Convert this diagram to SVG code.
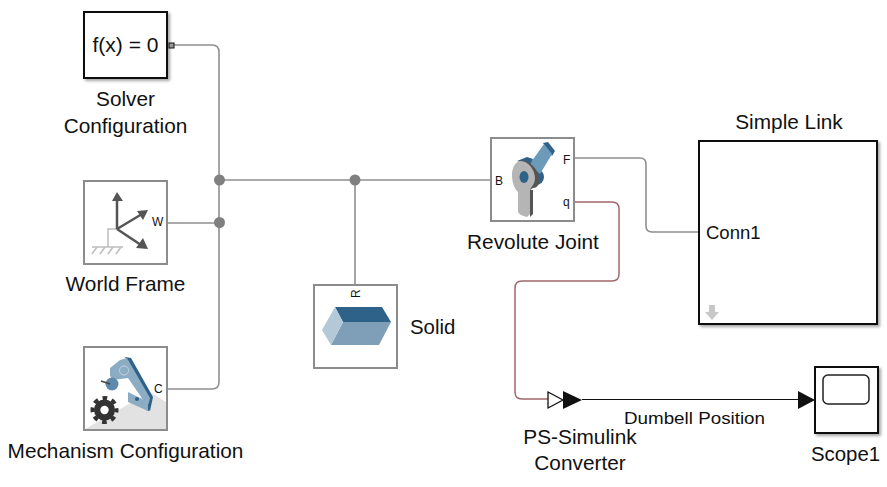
<svg xmlns="http://www.w3.org/2000/svg" width="887" height="487" viewBox="0 0 887 487">
<defs>
<filter id="sh" x="-10%" y="-10%" width="125%" height="125%"><feDropShadow dx="2" dy="2" stdDeviation="1.500" flood-color="#000" flood-opacity="0.35"/></filter>
</defs>
<style>
text{font-family:"Liberation Sans",Arial,sans-serif;fill:#111}
.lbl{font-size:20.800px;text-anchor:middle}
.port{font-size:12px}
.gray{fill:#fff;stroke:#8c8c8c;stroke-width:2}
.blk{fill:#fff;stroke:#111;stroke-width:2}
.conn{fill:none;stroke:#8f8f8f;stroke-width:1.600}
.dot{fill:#808080}
</style>
<rect width="887" height="487" fill="#fff"/>
<g id="connectors">
<path class="conn" d="M174 45H212Q219 45 219 52V382Q219 389 212 389H167"/>
<path class="conn" d="M168 223H219"/>
<path class="conn" d="M219 180H491"/>
<path class="conn" d="M355 180V285"/>
<path class="conn" d="M574 158H640Q646 158 646 164V226Q646 232 652 232H699"/>
<path fill="none" stroke="#a0686c" stroke-width="1.500" d="M574 202H612Q619 202 619 209V274Q619 281 612 281H522Q515 281 515 288V392Q515 399 522 399H548"/>
<path fill="none" stroke="#111" stroke-width="1" d="M582 399.500H800"/>
<path fill="#111" d="M798 391L815 400L798 409Z"/>
<circle class="dot" cx="219.500" cy="180" r="5.500"/>
<circle class="dot" cx="219.500" cy="222.500" r="5.500"/>
<circle class="dot" cx="355" cy="180" r="5.500"/>
<text x="694.500" y="424" font-size="17" text-anchor="middle" textLength="141" lengthAdjust="spacingAndGlyphs">Dumbell Position</text>
</g>
<g id="solver-config">
<rect class="blk" x="84" y="12" width="83" height="66" filter="url(#sh)"/>
<text x="125.500" y="52" font-size="21" text-anchor="middle">f(x) = 0</text>
<rect x="169" y="43" width="5" height="5" fill="#999" stroke="#111" stroke-width="1"/>
<text class="lbl" x="125.500" y="106">Solver</text>
<text class="lbl" x="125.500" y="133">Configuration</text>
</g>
<g id="world-frame">
<rect class="gray" x="84" y="181" width="83" height="83"/>
<path fill="none" stroke="#bdbdbd" stroke-width="1.500" d="M117 229H108V247M92 247H123M97 247L92 254M105 247L100 254M113 247L108 254M121 247L116 254"/>
<path fill="none" stroke="#555" stroke-width="2.500" d="M117 229V198M117 229L142 214M117 229L141 245"/>
<path fill="#555" d="M117 192L123 201H112ZM148 210L143 220L137 211ZM148 249L136 248L143 238Z"/>
<text class="port" x="152" y="226">W</text>
<text class="lbl" x="125.500" y="291">World Frame</text>
</g>
<g id="mechanism-config">
<rect class="gray" x="84" y="347" width="83" height="83"/>
<path fill="#e2e2e2" d="M85 429L150 392L166 402V429Z"/>
<path fill="#2f6288" d="M125 357L131 358L153 397L150 411L147 408L147 396Z"/>
<path fill="#8cacc4" d="M110 368L120 360L127 358L150 398L148 407L128 378L113 380L110 376Z"/>
<path fill="none" stroke="#c5d5e1" stroke-width="1" d="M124 366a4.500 4.500 0 1 0 .1 0Z"/>
<path fill="#2f6288" d="M146 403L149 404L149 411L146 410Z"/>
<path fill="#8cacc4" d="M128 392L148 402V411L128 402Z"/>
<circle cx="137" cy="399" r="2" fill="#2f6288"/>
<circle cx="112" cy="384" r="6.500" fill="#5f89aa"/>
<path stroke="#444" stroke-width="1.500" d="M101 381L110 384"/>
<circle cx="104.500" cy="410" r="10.500" fill="#333"/>
<circle cx="104.500" cy="410" r="12" fill="none" stroke="#333" stroke-width="4" stroke-dasharray="4.700 4.725" stroke-dashoffset="2.350"/>
<circle cx="104.500" cy="410" r="4.200" fill="#fff"/>
<text class="port" x="154" y="393">C</text>
<text class="lbl" x="125.500" y="458">Mechanism Configuration</text>
</g>
<g id="solid">
<rect class="gray" x="314" y="285" width="83" height="83"/>
<text class="port" transform="translate(360 298) rotate(-90)">R</text>
<path fill="#2f6288" d="M335 307H382L391 322H343Z"/>
<path fill="#7f9fb8" d="M343 322H391L379 345H331Z"/>
<path fill="#b3c9d8" d="M335 307L343 322L331 345L322 330Z"/>
<text x="410" y="334" font-size="20.400">Solid</text>
</g>
<g id="revolute-joint">
<rect class="gray" x="491" y="138" width="83" height="83"/>
<circle cx="536" cy="177" r="8" fill="#2f6288"/>
<path fill="#2f6288" d="M543 143L548 142L555 151L552 156Z"/>
<path fill="#6c9ab9" d="M529 165L544 144L552 154L540 174Z"/>
<path fill="#2f6288" d="M517 161L527 157L533 159L530 165Z"/>
<path fill="#555" d="M520 160C531 160 540 172 539 180C539 185 537 188 533 188L530 190Z"/>
<path fill="#555" d="M530 190H533V214L530 217Z"/>
<path fill="#b5b5b5" d="M520 161C527 160 535 169 535 178C535 184 531 187 530 190V214L527 217C522 216 519 214 518 212V192C514 188 512 182 512 175C512 168 515 162 520 161Z"/>
<ellipse cx="524" cy="177" rx="4.500" ry="6" fill="#2f6288"/>
<text class="port" x="495" y="185">B</text>
<text class="port" x="563" y="164">F</text>
<text class="port" x="563" y="206">q</text>
<text class="lbl" x="533" y="249">Revolute Joint</text>
</g>
<g id="simple-link">
<text x="789" y="129" font-size="20.800" text-anchor="middle">Simple Link</text>
<rect class="blk" x="699" y="141" width="178" height="183" filter="url(#sh)"/>
<text x="706" y="239" font-size="18.500">Conn1</text>
<path fill="#c8c8c8" d="M709 305H715V312H719L712 320L705 312H709Z"/>
</g>
<g id="ps-simulink">
<path fill="#fff" stroke="#111" stroke-width="1.300" d="M548 392L563 400L548 408Z"/>
<path fill="#111" d="M563 391L582 400L563 409Z"/>
<text class="lbl" x="580" y="444">PS-Simulink</text>
<text class="lbl" x="580" y="470">Converter</text>
</g>
<g id="scope1">
<rect class="blk" x="815" y="367" width="63" height="66" filter="url(#sh)"/>
<rect x="823" y="375" width="46" height="29" rx="5" fill="#fff" stroke="#222" stroke-width="1.500"/>
<text x="845.500" y="461" font-size="20.400" text-anchor="middle">Scope1</text>
</g>
</svg>
